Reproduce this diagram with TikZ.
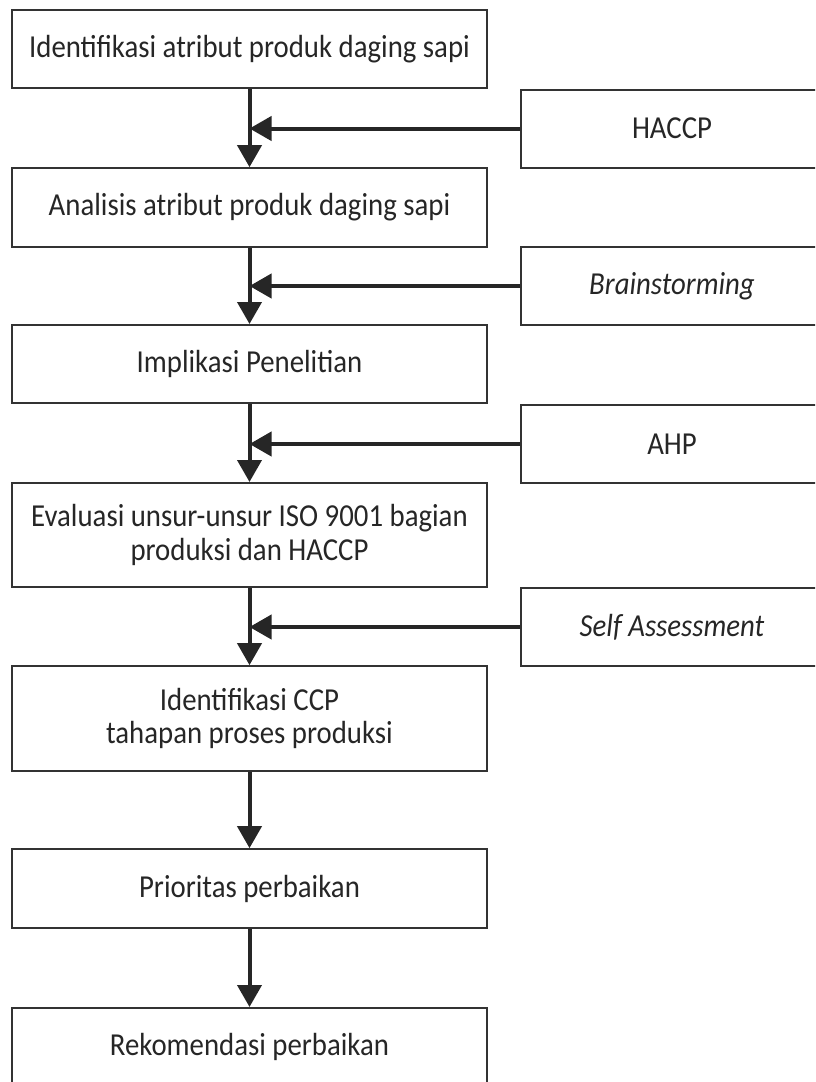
\documentclass[tikz,border=0pt]{standalone}
\usepackage{fontspec}
\setmainfont{Carlito}[FakeStretch=0.9]
\usetikzlibrary{arrows.meta}

\begin{document}
\begin{tikzpicture}[
        x=0.75pt, y=-0.75pt,
        line join=miter,
        mainbox/.style={
            draw=black!80, line width=1.5pt, text=black!85,
            minimum width=356pt, inner sep=0pt, align=center,
            font=\fontsize{24}{25}\selectfont
        },
        sidebox/.style={
            mainbox, minimum width=226pt, minimum height=58.5pt
        },
        flow/.style={
            line width=3pt, draw=black!85,
            -{Triangle[width=18pt, length=16.5pt]}
        }
    ]
    \useasboundingbox (0,0) rectangle (815,1082);
    \clip (0,0) rectangle (815,1082);

    % main column
    \node[mainbox, minimum height=58.5pt] (atribut) at (249.5, 49)
        {Identifikasi atribut produk daging sapi};
    \node[mainbox, minimum height=59pt] (analisis) at (249.5, 207.5)
        {Analisis atribut produk daging sapi};
    \node[mainbox, minimum height=58.5pt] (implikasi) at (249.5, 364)
        {Implikasi Penelitian};
    \node[mainbox, minimum height=78pt] (evaluasi) at (249.5, 535)
        {Evaluasi unsur-unsur ISO 9001 bagian\\produksi dan HACCP};
    \node[mainbox, minimum height=78.5pt] (ccp) at (249.5, 718.5)
        {Identifikasi CCP\\tahapan proses produksi};
    \node[mainbox, minimum height=59pt] (prioritas) at (249.5, 888.5)
        {Prioritas perbaikan};
    \node[mainbox, minimum height=58.5pt] (rekomendasi) at (249.5, 1047)
        {Rekomendasi perbaikan};

    % tools on the right, cut by the page edge
    \node[sidebox] (haccp) at (672, 128.5) {HACCP};
    \node[sidebox] (brain) at (672, 286) {\itshape Brainstorming};
    \node[sidebox] (ahp) at (672, 444) {AHP};
    \node[sidebox] (self) at (672, 627) {\itshape Self Assessment};

    \draw[flow] (atribut) -- (analisis);
    \draw[flow] (analisis) -- (implikasi);
    \draw[flow] (implikasi) -- (evaluasi);
    \draw[flow] (evaluasi) -- (ccp);
    \draw[flow] (ccp) -- (prioritas);
    \draw[flow] (prioritas) -- (rekomendasi);

    \draw[flow] (haccp.west) -- (haccp.west -| atribut.south);
    \draw[flow] (brain.west) -- (brain.west -| analisis.south);
    \draw[flow] (ahp.west) -- (ahp.west -| implikasi.south);
    \draw[flow] (self.west) -- (self.west -| evaluasi.south);
\end{tikzpicture}
\end{document}
